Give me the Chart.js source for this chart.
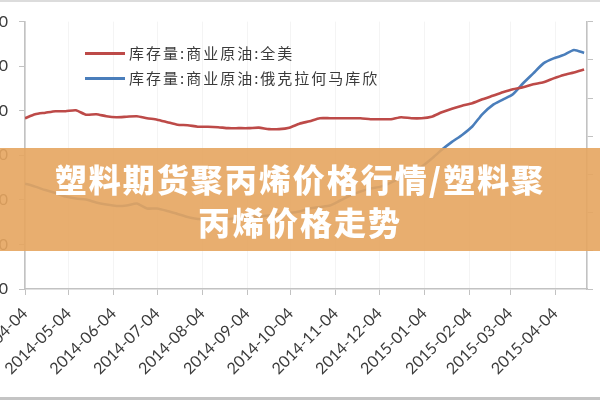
<!DOCTYPE html>
<html>
<head>
<meta charset="utf-8">
<script src="https://cdn.jsdelivr.net/npm/chart.js@4"></script>
<style>
html,body{margin:0;padding:0;background:#fff;}
#wrap{position:relative;width:600px;height:400px;overflow:hidden;background:#fff;}
#c{position:absolute;left:0;top:0;width:600px;height:400px;}
#topline{position:absolute;left:0;top:0;width:600px;height:2px;background:#dcdcdc;}
#botline{position:absolute;left:0;top:397px;width:600px;height:3px;background:#c4c4c4;}
#banner{position:absolute;left:0;top:148px;width:600px;height:103px;background:rgba(229,165,95,0.9);color:#fff;
  font-family:"Noto Sans CJK SC","Noto Sans CJK JP",sans-serif;font-weight:900;font-size:32px;line-height:43px;
  letter-spacing:2px;text-align:center;padding-top:9px;box-sizing:border-box;}
</style>
</head>
<body>
<div id="wrap">
  <canvas id="c" width="600" height="400"></canvas>
  <div id="topline"></div>
  <div id="botline"></div>
  <div id="banner">塑料期货聚丙烯价格行情/塑料聚<br>丙烯价格走势</div>
</div>
<script>
// ---- data ----
const weekDates = [
  '2014-04-04','2014-04-11','2014-04-18','2014-04-25',
  '2014-05-02','2014-05-09','2014-05-16','2014-05-23','2014-05-30',
  '2014-06-06','2014-06-13','2014-06-20','2014-06-27',
  '2014-07-04','2014-07-11','2014-07-18','2014-07-25',
  '2014-08-01','2014-08-08','2014-08-15','2014-08-22','2014-08-29',
  '2014-09-05','2014-09-12','2014-09-19','2014-09-26',
  '2014-10-03','2014-10-10','2014-10-17','2014-10-24','2014-10-31',
  '2014-11-07','2014-11-14','2014-11-21','2014-11-28',
  '2014-12-05','2014-12-12','2014-12-19','2014-12-26',
  '2015-01-02','2015-01-09','2015-01-16','2015-01-23','2015-01-30',
  '2015-02-06','2015-02-13','2015-02-20','2015-02-27',
  '2015-03-06','2015-03-13','2015-03-20','2015-03-27',
  '2015-04-03','2015-04-10','2015-04-17','2015-04-24'
];
const usStocks = [
  383200,392200,395500,398900,
  398900,401100,391100,392200,387700,
  385500,386600,387700,383200,
  379900,374300,368700,367600,
  364200,364200,363100,360900,360900,
  360900,362000,358700,358700,
  362000,370900,376500,383200,383200,
  383200,383200,383200,381000,
  381000,381000,385500,383200,
  383200,386600,396600,404500,411200,
  416800,425700,433500,441300,
  448000,452500,459200,463700,
  472600,480400,486000,492700
];
const cushingStocks = [
  27580,26800,25890,25110,
  24200,23680,23420,22640,22120,
  21730,21860,22380,21080,
  21080,20430,19650,18860,
  18340,17950,18210,18340,18600,
  18860,18990,19250,19650,
  19900,20300,21080,21470,21860,
  23160,24460,25500,26280,
  26800,27840,29140,30570,
  32000,34090,36430,38510,40330,
  42540,45800,48140,49570,
  51000,53860,56460,59070,
  60370,61280,62580,61800
];
const monthTicks = [
  '2014-04-04','2014-05-04','2014-06-04','2014-07-04','2014-08-04','2014-09-04','2014-10-04',
  '2014-11-04','2014-12-04','2015-01-04','2015-02-04','2015-03-04','2015-04-04'
];
const seriesNames = ['库存量:商业原油:全美','库存量:商业原油:俄克拉何马库欣'];
const axisEndDate = '2015-04-26';
const leftAxis = {min: 0, max: 600000, step: 100000};
const rightAxis = {min: 0, max: 70000, step: 10000};

// ---- helpers ----
const DAY = 864e5;
const t0 = Date.parse(monthTicks[0]);
const dayOf = s => (Date.parse(s) - t0) / DAY;
const toPoints = vals => weekDates.map((d, i) => ({x: dayOf(d), y: vals[i]}));

const axisGray = '#c2c2c2';
const labelColor = '#3c3c3c';
const tickFont = {family: 'Lato, "Open Sans", sans-serif', size: 16};

const insideLegend = {
  id: 'insideLegend',
  afterDatasetsDraw(chart) {
    const {ctx, chartArea: a} = chart;
    ctx.save();
    chart.data.datasets.forEach((ds, i) => {
      const y = a.top + 32 + i * 25;
      ctx.strokeStyle = ds.borderColor;
      ctx.lineWidth = 3;
      ctx.beginPath();
      ctx.moveTo(a.left + 60, y);
      ctx.lineTo(a.left + 100, y);
      ctx.stroke();
      ctx.fillStyle = '#3a3a3a';
      ctx.font = '15px "Noto Sans CJK SC", sans-serif';
      ctx.letterSpacing = '2px';
      ctx.textBaseline = 'middle';
      ctx.textAlign = 'left';
      ctx.fillText(ds.label, a.left + 104, y);
    });
    ctx.restore();
  }
};

new Chart(document.getElementById('c'), {
  type: 'line',
  data: {
    datasets: [
      {label: seriesNames[0], data: toPoints(usStocks), yAxisID: 'y',
       borderColor: '#bd4a48', borderWidth: 2.6, pointRadius: 0, tension: 0.2},
      {label: seriesNames[1], data: toPoints(cushingStocks), yAxisID: 'y1',
       borderColor: '#4a7ebb', borderWidth: 2.6, pointRadius: 0, tension: 0.2}
    ]
  },
  options: {
    responsive: false,
    animation: false,
    devicePixelRatio: 1,
    layout: {padding: {top: 20, left: 0, right: 0, bottom: 0}},
    plugins: {legend: {display: false}, tooltip: {enabled: false}},
    scales: {
      x: {
        type: 'linear',
        min: 0,
        max: dayOf(axisEndDate),
        afterBuildTicks: s => { s.ticks = monthTicks.map(m => ({value: dayOf(m)})); },
        afterFit: s => { s.height = 111; s.paddingLeft = 0; s.paddingRight = 0; },
        ticks: {
          autoSkip: false, minRotation: 45, maxRotation: 45,
          callback: (v, i) => monthTicks[i],
          color: labelColor, font: tickFont, padding: 9
        },
        grid: {drawOnChartArea: true, color: '#f4f4f4', tickColor: axisGray, tickLength: 6},
        border: {color: axisGray, width: 1.6}
      },
      y: {
        position: 'left',
        min: leftAxis.min, max: leftAxis.max,
        afterFit: s => { s.width = 25; },
        ticks: {stepSize: leftAxis.step, color: labelColor, font: tickFont, padding: 11,
                callback: v => v.toLocaleString('en-US')},
        grid: {drawOnChartArea: false, color: axisGray, tickLength: 6},
        border: {color: axisGray, width: 1.6}
      },
      y1: {
        position: 'right',
        min: rightAxis.min, max: rightAxis.max,
        afterFit: s => { s.width = 13; },
        ticks: {stepSize: rightAxis.step, color: labelColor, font: tickFont, padding: 12,
                callback: v => v.toLocaleString('en-US')},
        grid: {drawOnChartArea: false, color: axisGray, tickLength: 6},
        border: {color: axisGray, width: 1.6}
      }
    }
  },
  plugins: [insideLegend]
});
</script>
</body>
</html>
